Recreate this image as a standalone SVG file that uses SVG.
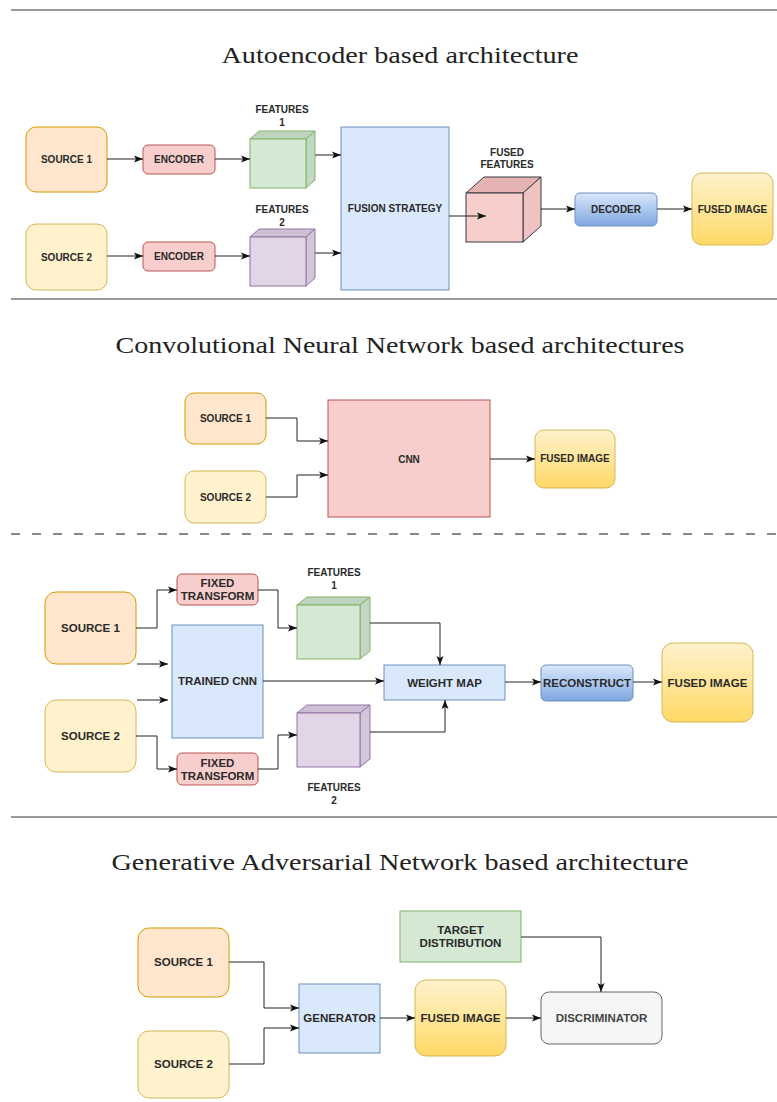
<svg xmlns="http://www.w3.org/2000/svg" width="777" height="1102" viewBox="0 0 777 1102">
  <style>
    .title { font-family: "Liberation Serif", "DejaVu Serif", serif; font-size: 24px; fill: #222; text-anchor: middle; }
    .lbl { font-family: "Liberation Sans", Arial, Helvetica, sans-serif; font-weight: bold; fill: #2a2a2a; text-anchor: middle; dominant-baseline: central; }
    .s10 { font-size: 10px; }
    .s11 { font-size: 11.5px; }
    .rule { stroke: #777; stroke-width: 1.5; fill: none; }
    .src1 { fill: #ffe6cc; stroke: #d79b00; stroke-width: 1; }
    .src2 { fill: #fff2cc; stroke: #d6b656; stroke-width: 1; }
    .red { fill: #f8cecc; stroke: #b85450; stroke-width: 1; }
    .blue { fill: #dae8fc; stroke: #6c8ebf; stroke-width: 1; }
    .blueg { fill: url(#gBlue); stroke: #6c8ebf; stroke-width: 1; }
    .gold { fill: url(#gGold); stroke: #d6b656; stroke-width: 1; }
    .green { fill: #d5e8d4; stroke: #82b366; stroke-width: 1; }
    .grey { fill: #f5f5f5; stroke: #666; stroke-width: 1; }
    .edge { fill: none; stroke: #222; stroke-width: 1; marker-end: url(#arr); }
  </style>
  <defs>
    <linearGradient id="gGold" x1="0" y1="0" x2="0" y2="1">
      <stop offset="0" stop-color="#fff2cc"/>
      <stop offset="1" stop-color="#ffd966"/>
    </linearGradient>
    <linearGradient id="gBlue" x1="0" y1="0" x2="0" y2="1">
      <stop offset="0" stop-color="#dae8fc"/>
      <stop offset="1" stop-color="#7ea6e0"/>
    </linearGradient>
    <marker id="arr" markerUnits="userSpaceOnUse" markerWidth="10" markerHeight="8" refX="9" refY="4" orient="auto">
      <path d="M0,0.5 L9,4 L0,7.5 L2,4 z" fill="#111"/>
    </marker>
  </defs>

  <!-- section rules -->
  <g id="rules">
    <line class="rule" x1="11" y1="10" x2="777" y2="10"/>
    <line class="rule" x1="11" y1="299" x2="777" y2="299"/>
    <line x1="11" y1="534" x2="777" y2="534" stroke="#888" stroke-width="2" stroke-dasharray="9 12"/>
    <line class="rule" x1="11" y1="817" x2="777" y2="817"/>
  </g>

  <!-- section titles -->
  <g id="titles">
    <text class="title" x="400" y="63" textLength="357" lengthAdjust="spacingAndGlyphs">Autoencoder based architecture</text>
    <text class="title" x="400" y="353" textLength="569" lengthAdjust="spacingAndGlyphs">Convolutional Neural Network based architectures</text>
    <text class="title" x="400" y="870" textLength="577" lengthAdjust="spacingAndGlyphs">Generative Adversarial Network based architecture</text>
  </g>

  <!-- ===== Autoencoder ===== -->
  <g id="ae-source1">
    <rect class="src1" x="26" y="127" width="81" height="65" rx="10"/>
    <text class="lbl s10" x="66.5" y="159.5">SOURCE 1</text>
  </g>
  <g id="ae-source2">
    <rect class="src2" x="26" y="224" width="81" height="66" rx="10"/>
    <text class="lbl s10" x="66.5" y="257">SOURCE 2</text>
  </g>
  <g id="ae-encoder1">
    <rect class="red" x="143" y="145" width="72" height="29" rx="5"/>
    <text class="lbl s10" x="179" y="159.5">ENCODER</text>
  </g>
  <g id="ae-encoder2">
    <rect class="red" x="143" y="242" width="72" height="29" rx="5"/>
    <text class="lbl s10" x="179" y="256.5">ENCODER</text>
  </g>
  <g id="ae-features1">
    <polygon points="250,139 259,131 315,131 306,139" fill="#bfd4be" stroke="#82b366"/>
    <polygon points="306,139 315,131 315,180 306,188" fill="#c3d8c2" stroke="#82b366"/>
    <rect x="250" y="139" width="56" height="49" fill="#d5e8d4" stroke="#82b366"/>
    <text class="lbl s10" x="282" y="109">FEATURES</text>
    <text class="lbl s10" x="282" y="122">1</text>
  </g>
  <g id="ae-features2">
    <polygon points="250,237 259,229 315,229 306,237" fill="#cdc0d4" stroke="#9673a6"/>
    <polygon points="306,237 315,229 315,278 306,286" fill="#d2c6d9" stroke="#9673a6"/>
    <rect x="250" y="237" width="56" height="49" fill="#e1d5e7" stroke="#9673a6"/>
    <text class="lbl s10" x="282" y="209">FEATURES</text>
    <text class="lbl s10" x="282" y="222">2</text>
  </g>
  <g id="ae-fusion">
    <rect class="blue" x="341" y="127" width="108" height="163"/>
    <text class="lbl s10" x="395" y="208">FUSION STRATEGY</text>
  </g>
  <g id="ae-fused-features">
    <polygon points="466,193 484,177 541,177 523,193" fill="#e6b3b3" stroke="#36393d"/>
    <polygon points="523,193 541,177 541,226 523,242" fill="#f0c3c2" stroke="#36393d"/>
    <rect x="466" y="193" width="57" height="49" fill="#f8cecc" stroke="#36393d"/>
    <text class="lbl s10" x="507" y="152">FUSED</text>
    <text class="lbl s10" x="507" y="164">FEATURES</text>
  </g>
  <g id="ae-decoder">
    <rect class="blueg" x="575" y="193" width="82" height="33" rx="5"/>
    <text class="lbl s10" x="616" y="209">DECODER</text>
  </g>
  <g id="ae-fused-image">
    <rect class="gold" x="692" y="173" width="81" height="72" rx="10"/>
    <text class="lbl s10" x="732.5" y="209">FUSED IMAGE</text>
  </g>

  <!-- ===== CNN ===== -->
  <g id="cnn-source1">
    <rect class="src1" x="185" y="393" width="81" height="51" rx="9"/>
    <text class="lbl s10" x="225.5" y="418.5">SOURCE 1</text>
  </g>
  <g id="cnn-source2">
    <rect class="src2" x="185" y="471" width="81" height="52" rx="9"/>
    <text class="lbl s10" x="225.5" y="497">SOURCE 2</text>
  </g>
  <g id="cnn-net">
    <rect class="red" x="328" y="400" width="162" height="117"/>
    <text class="lbl s10" x="409" y="459">CNN</text>
  </g>
  <g id="cnn-fused-image">
    <rect class="gold" x="535" y="430" width="80" height="58" rx="9"/>
    <text class="lbl s10" x="575" y="458">FUSED IMAGE</text>
  </g>

  <!-- ===== Trained CNN with fixed transforms ===== -->
  <g id="tc-source1">
    <rect class="src1" x="45" y="592" width="91" height="72" rx="11"/>
    <text class="lbl s11" x="90.5" y="628">SOURCE 1</text>
  </g>
  <g id="tc-source2">
    <rect class="src2" x="45" y="700" width="91" height="72" rx="11"/>
    <text class="lbl s11" x="90.5" y="735.5">SOURCE 2</text>
  </g>
  <g id="tc-transform1">
    <rect class="red" x="177" y="574" width="81" height="31" rx="5"/>
    <text class="lbl s11" x="217.5" y="583">FIXED</text>
    <text class="lbl s11" x="217.5" y="596">TRANSFORM</text>
  </g>
  <g id="tc-transform2">
    <rect class="red" x="177" y="753" width="81" height="32" rx="5"/>
    <text class="lbl s11" x="217.5" y="763">FIXED</text>
    <text class="lbl s11" x="217.5" y="776">TRANSFORM</text>
  </g>
  <g id="tc-trained-cnn">
    <rect class="blue" x="172" y="625" width="91" height="113"/>
    <text class="lbl s11" x="217.5" y="681">TRAINED CNN</text>
  </g>
  <g id="tc-features1">
    <polygon points="297,605 307,597 370,597 360,605" fill="#bfd4be" stroke="#82b366"/>
    <polygon points="360,605 370,597 370,651 360,659" fill="#c3d8c2" stroke="#82b366"/>
    <rect x="297" y="605" width="63" height="54" fill="#d5e8d4" stroke="#82b366"/>
    <text class="lbl s10" x="334" y="572">FEATURES</text>
    <text class="lbl s10" x="334" y="585">1</text>
  </g>
  <g id="tc-features2">
    <polygon points="297,713 307,705 370,705 360,713" fill="#cdc0d4" stroke="#9673a6"/>
    <polygon points="360,713 370,705 370,759 360,767" fill="#d2c6d9" stroke="#9673a6"/>
    <rect x="297" y="713" width="63" height="54" fill="#e1d5e7" stroke="#9673a6"/>
    <text class="lbl s10" x="334" y="787">FEATURES</text>
    <text class="lbl s10" x="334" y="800">2</text>
  </g>
  <g id="tc-weight-map">
    <rect class="blue" x="384" y="665" width="121" height="35"/>
    <text class="lbl s11" x="444.5" y="682.5">WEIGHT MAP</text>
  </g>
  <g id="tc-reconstruct">
    <rect class="blueg" x="541" y="665" width="92" height="36" rx="5"/>
    <text class="lbl s11" x="587" y="682.5">RECONSTRUCT</text>
  </g>
  <g id="tc-fused-image">
    <rect class="gold" x="662" y="643" width="91" height="79" rx="11"/>
    <text class="lbl s11" x="707.5" y="682.5">FUSED IMAGE</text>
  </g>

  <!-- ===== GAN ===== -->
  <g id="gan-source1">
    <rect class="src1" x="138" y="928" width="91" height="69" rx="11"/>
    <text class="lbl s11" x="183.5" y="962">SOURCE 1</text>
  </g>
  <g id="gan-source2">
    <rect class="src2" x="138" y="1031" width="91" height="67" rx="11"/>
    <text class="lbl s11" x="183.5" y="1064">SOURCE 2</text>
  </g>
  <g id="gan-generator">
    <rect class="blue" x="299" y="984" width="81" height="69"/>
    <text class="lbl s11" x="339.5" y="1018">GENERATOR</text>
  </g>
  <g id="gan-fused-image">
    <rect class="gold" x="415" y="980" width="91" height="76" rx="11"/>
    <text class="lbl s11" x="460.5" y="1018">FUSED IMAGE</text>
  </g>
  <g id="gan-target">
    <rect class="green" x="400" y="911" width="121" height="51"/>
    <text class="lbl s11" x="460.5" y="930">TARGET</text>
    <text class="lbl s11" x="460.5" y="943">DISTRIBUTION</text>
  </g>
  <g id="gan-discriminator">
    <rect class="grey" x="541" y="992" width="121" height="52" rx="8"/>
    <text class="lbl s11" x="601.5" y="1018" style="fill:#444">DISCRIMINATOR</text>
  </g>

  <!-- connectors -->
  <g id="connectors">
    <!-- autoencoder -->
    <path class="edge" d="M107,159 H143"/>
    <path class="edge" d="M215,159 H250"/>
    <path class="edge" d="M107,256 H143"/>
    <path class="edge" d="M215,256 H250"/>
    <path class="edge" d="M315,155 H341"/>
    <path class="edge" d="M315,253 H341"/>
    <path class="edge" d="M449,216 H486"/>
    <path class="edge" d="M541,209 H575"/>
    <path class="edge" d="M657,209 H692"/>
    <!-- cnn -->
    <path class="edge" d="M266,418 H297 V441 H328"/>
    <path class="edge" d="M266,497 H297 V475 H328"/>
    <path class="edge" d="M490,459 H535"/>
    <!-- trained cnn -->
    <path class="edge" d="M136,628 H157 V590 H177"/>
    <path class="edge" d="M136,736 H157 V769 H177"/>
    <path class="edge" d="M137,664 H168"/>
    <path class="edge" d="M137,700 H168"/>
    <path class="edge" d="M258,590 H278 V628 H297"/>
    <path class="edge" d="M258,769 H278 V735 H297"/>
    <path class="edge" d="M263,681 H384"/>
    <path class="edge" d="M370,623 H440 V665"/>
    <path class="edge" d="M370,732 H445 V700"/>
    <path class="edge" d="M505,682 H541"/>
    <path class="edge" d="M633,682 H662"/>
    <!-- gan -->
    <path class="edge" d="M229,962 H264 V1008 H299"/>
    <path class="edge" d="M229,1064 H264 V1028 H299"/>
    <path class="edge" d="M380,1018 H415"/>
    <path class="edge" d="M506,1018 H541"/>
    <path class="edge" d="M521,937 H601 V992"/>
  </g>
</svg>
